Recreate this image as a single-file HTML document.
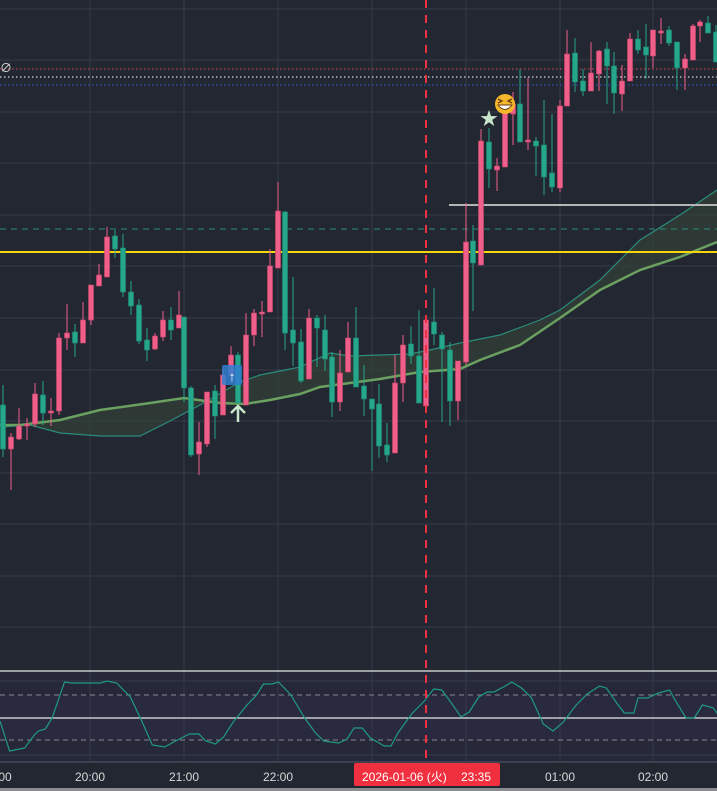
<!DOCTYPE html>
<html><head><meta charset="utf-8"><style>
html,body{margin:0;padding:0;background:#232732;}
svg{display:block}
text{font-family:"Liberation Sans","Noto Sans CJK JP",sans-serif;}
</style></head><body>
<svg id="c" width="717" height="791" xmlns="http://www.w3.org/2000/svg"></svg>
<script>
const S=document.getElementById('c');let h='';
h+='<rect width="717" height="791" fill="#232732"/>';
h+='<rect x="0" y="671" width="717" height="91" fill="#262839"/>';
h+='<rect x="0" y="695" width="717" height="45" fill="#29293f"/>';
[9,60,112,163,215,266,318,370,421,473,524,576,627].forEach(y=>h+=`<line x1="0" x2="717" y1="${y}" y2="${y}" stroke="#373b48" stroke-width="1"/>`);
[90,184,278,372,466,560,653].forEach(x=>h+=`<line x1="${x}" x2="${x}" y1="0" y2="762" stroke="#373b48" stroke-width="1"/>`);
[681,755].forEach(y=>h+=`<line x1="0" x2="717" y1="${y}" y2="${y}" stroke="#363a47"/>`);
const g=[[0,425],[20,425],[60,420],[100,410],[150,403],[184,398],[220,403],[245,404],[270,400],[300,394],[320,387],[350,383],[380,379],[420,372],[460,369],[480,360],[520,345],[560,318],[600,290],[640,270],[680,257],[717,242]];
const t=[[0,427],[30,425],[60,433],[100,436],[140,436],[170,421],[200,405],[240,382],[260,375],[300,367],[330,353],[350,356],[380,355],[410,354],[430,350],[460,343],[500,335],[540,320],[560,310],[600,280],[640,240],[680,215],[717,190]];
const P=a=>a.map(p=>p.join(',')).join(' ');
h+=`<polygon points="${P(g)} ${P(t.slice().reverse())}" fill="#334038" fill-opacity="0.75"/>`;
h+=`<polyline points="${P(t)}" fill="none" stroke="#2a8c7a" stroke-width="1.2"/>`;
h+=`<polyline points="${P(g)}" fill="none" stroke="#6aa060" stroke-width="2.5"/>`;
h+='<line x1="0" x2="717" y1="229" y2="229" stroke="#2a8c7a" stroke-dasharray="6,5"/>';
h+='<line x1="0" x2="717" y1="252" y2="252" stroke="#f5d60a" stroke-width="2"/>';
h+='<line x1="449" x2="717" y1="205" y2="205" stroke="#b5b5b5" stroke-width="2"/>';
h+='<line x1="0" x2="717" y1="69" y2="69" stroke="#e05050" stroke-dasharray="1.5,2.5"/>';
h+='<line x1="0" x2="717" y1="77" y2="77" stroke="#ffffff" stroke-dasharray="1.5,2.5"/>';
h+='<line x1="0" x2="717" y1="85" y2="85" stroke="#3060e0" stroke-dasharray="1.5,2.5"/>';
h+='<text x="0" y="72" font-size="12" fill="#ddd">∅</text>';
const C=[[3,'g',405,449,385,457],[11,'p',437,449,433,490],[19,'p',426,439,408,440],[27,'p',424,426,418,440],[35,'p',394,424,383,427],[43,'g',395,413,381,425],[51,'p',411,413,398,426],[59,'p',338,411,333,415],[67,'p',333,338,304,350],[75,'g',332,343,324,357],[83,'p',320,343,302,343],[91,'p',285,320,285,325],[99,'p',275,286,264,286],[107,'p',237,277,227,277],[115,'g',236,249,230,258],[123,'g',248,292,234,297],[131,'g',292,306,281,315],[139,'g',305,341,299,344],[147,'g',340,350,328,361],[155,'p',336,349,333,350],[163,'p',320,337,311,341],[171,'g',320,330,307,340],[179,'p',315,328,291,328],[184,'g',317,388,317,402],[191,'g',388,455,386,457],[199,'p',442,454,422,475],[207,'p',392,444,392,447],[215,'g',391,416,385,439],[223,'p',375,415,369,415],[231,'p',355,375,346,383],[238,'g',355,403,352,403],[246,'p',335,405,313,405],[254,'p',313,335,309,346],[262,'p',312,314,301,337],[270,'p',266,312,249,312],[278,'p',211,268,182,268],[285,'g',212,333,211,350],[293,'g',330,343,277,366],[301,'g',342,381,329,383],[309,'p',318,379,309,379],[317,'g',318,328,315,367],[325,'g',330,359,315,371],[332,'g',357,402,352,417],[340,'p',373,402,350,411],[348,'p',338,372,322,372],[356,'g',338,387,307,387],[364,'g',386,399,365,416],[372,'g',399,409,399,471],[379,'g',404,446,384,458],[387,'g',445,455,423,462],[395,'p',383,453,355,453],[403,'p',345,383,335,402],[411,'g',344,356,326,364],[419,'g',356,403,310,403],[426,'p',320,406,320,406],[434,'g',322,334,288,345],[442,'g',335,349,332,422],[450,'g',350,401,342,426],[458,'p',361,401,361,420],[466,'p',242,362,203,365],[473,'g',241,263,225,311],[481,'p',141,265,129,265],[489,'g',142,169,128,188],[497,'p',166,170,158,191],[505,'p',106,167,100,167],[513,'p',104,114,92,145],[520,'g',104,142,69,142],[528,'p',140,142,78,150],[536,'g',141,146,137,176],[544,'g',145,177,100,195],[552,'g',173,187,114,192],[560,'p',106,188,100,192],[567,'p',54,106,30,106],[575,'g',53,82,38,92],[583,'g',81,91,69,96],[591,'p',73,91,42,91],[599,'p',51,74,50,91],[607,'g',49,66,42,104],[614,'g',66,93,52,114],[622,'p',81,94,65,111],[630,'p',39,81,33,81],[638,'g',39,50,30,54],[646,'g',47,55,24,79],[653,'p',30,56,30,68],[661,'p',31,33,18,44],[669,'g',30,43,26,46],[677,'g',42,68,42,90],[685,'p',59,68,54,90],[693,'p',26,60,24,60],[700,'p',22,26,20,42],[708,'g',23,33,16,33],[716,'g',32,62,25,62]];
C.forEach(([x,c,bt,bb,wt,wb])=>{const col=c=='g'?'#26a68a':'#ef5f8a';const oc=c=='g'?'#1f8a72':'#c8486e';
h+=`<line x1="${x}" x2="${x}" y1="${wt}" y2="${wb}" stroke="${col}" stroke-width="1"/>`;
h+=`<rect x="${x-2.5}" y="${bt}" width="5" height="${Math.max(bb-bt,1.5)}" fill="${col}" stroke="${oc}" stroke-width="0.6"/>`;});
h+='<rect x="222" y="365" width="20" height="20" rx="2" fill="#2f7fd0" fill-opacity="0.85"/>';
h+='<text x="232" y="381" font-size="13" fill="#fff" text-anchor="middle" font-weight="bold">↑</text>';
h+='<path d="M238 422 V406 M231 413 L238 406 L245 413" stroke="#c8e6c9" stroke-width="2.5" fill="none"/>';
h+='<text x="489" y="125" font-size="18" fill="#c8e6c9" text-anchor="middle">★</text>';
h+='<circle cx="505" cy="104" r="10" fill="#f5b82a"/><path d="M498 105 Q505 114 512 105 Z" fill="#fff" stroke="#6a3a10"/><path d="M498 99 L502 101 L498 103 M512 99 L508 101 L512 103" stroke="#6a3a10" fill="none" stroke-width="1.3"/>';
h+='<line x1="0" x2="717" y1="671" y2="671" stroke="#e8e8e8" stroke-width="1.2"/>';
h+='<line x1="0" x2="717" y1="718" y2="718" stroke="#e8e8e8" stroke-width="1.2"/>';
h+='<line x1="0" x2="717" y1="695" y2="695" stroke="#888" stroke-dasharray="5,4"/>';
h+='<line x1="0" x2="717" y1="740" y2="740" stroke="#888" stroke-dasharray="5,4"/>';
const O=[[0,721],[7,751],[18,748],[25,735],[28,731],[33,729],[38,718],[47,682],[52,683],[73,683],[78,681],[85,683],[95,697],[103,720],[111,745],[120,747],[128,741],[138,734],[145,734],[150,741],[157,744],[163,737],[170,722],[180,705],[187,695],[192,684],[198,684],[203,682],[212,695],[222,718],[230,733],[236,741],[241,742],[247,743],[253,739],[258,728],[264,728],[270,738],[280,746],[285,746],[290,733],[300,714],[310,700],[316,689],[322,690],[330,705],[336,717],[342,712],[349,697],[355,692],[360,692],[367,687],[373,682],[380,688],[387,697],[396,724],[403,731],[410,723],[420,705],[428,694],[437,686],[442,688],[450,704],[455,713],[462,713],[465,698],[472,698],[480,693],[488,690],[492,700],[500,718],[506,718],[512,705],[520,708],[523,714]];
h+=`<polyline points="${O.map(p=>(p[0]*1.372).toFixed(1)+','+p[1]).join(' ')}" fill="none" stroke="#1f9a82" stroke-width="1.2"/>`;
h+='<line x1="426" x2="426" y1="0" y2="762" stroke="#f03040" stroke-width="2" stroke-dasharray="8,7"/>';
h+='<line x1="0" x2="717" y1="762" y2="762" stroke="#555a66"/>';
[[5,'00'],[90,'20:00'],[184,'21:00'],[278,'22:00'],[560,'01:00'],[653,'02:00']].forEach(([x,s])=>h+=`<text x="${x}" y="781" font-size="12" fill="#d8d8d8" text-anchor="middle">${s}</text>`);
h+='<rect x="354" y="763" width="146" height="23" rx="2" fill="#f0303f"/>';
h+='<text x="362" y="781" font-size="12" fill="#fff">2026-01-06 (火)</text><text x="461" y="781" font-size="12" fill="#fff">23:35</text>';
h+='<rect x="0" y="788" width="717" height="3" fill="#8a8c92"/>';
S.innerHTML=h;
</script>
</body></html>
